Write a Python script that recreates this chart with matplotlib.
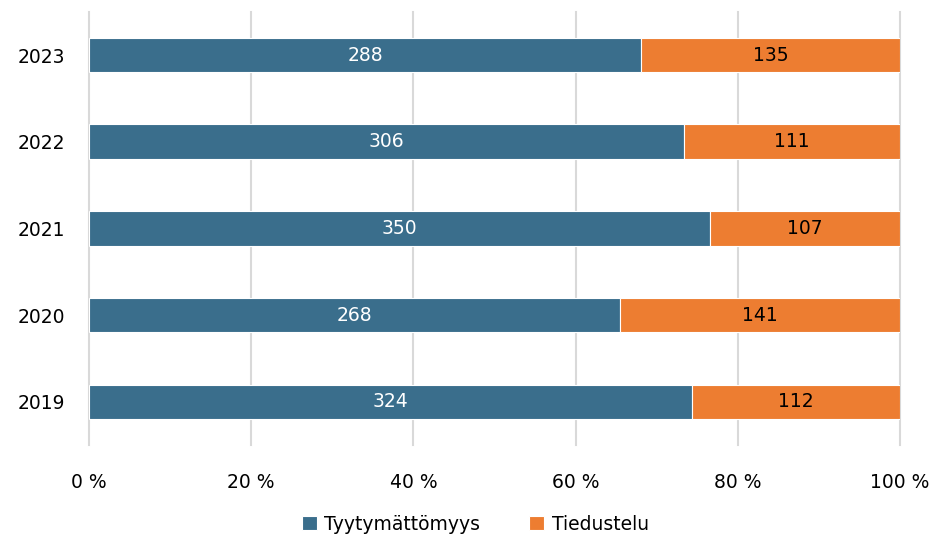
import matplotlib.pyplot as plt
import numpy as np

years = ['2019', '2020', '2021', '2022', '2023']
tyytymattomyys = [324, 268, 350, 306, 288]
tiedustelu = [112, 141, 107, 111, 135]
x_ticks = [0, 20, 40, 60, 80, 100]
x_labels = ['0 %', '20 %', '40 %', '60 %', '80 %', '100 %']

plt.rcParams['font.family'] = ['DejaVu Sans']

a = np.array(tyytymattomyys, dtype=float)
b = np.array(tiedustelu, dtype=float)
total = a + b
pa = a / total * 100
pb = b / total * 100

fig = plt.figure(figsize=(9.32, 5.37), dpi=100)
ax = fig.add_axes([0.0955, 0.171, 0.8702, 0.807])

y = np.arange(len(years))
bar_h = 0.4
blue = '#3a6e8c'
orange = '#ed7d31'
fs = 13.5

ax.barh(y, pa, height=bar_h, color=blue, edgecolor='white', linewidth=0.8,
        label='Tyytymättömyys', zorder=3)
ax.barh(y, pb, left=pa, height=bar_h, color=orange, edgecolor='white', linewidth=0.8,
        label='Tiedustelu', zorder=3)

for i in range(len(years)):
    ax.text(pa[i] / 2, y[i], str(tyytymattomyys[i]), ha='center', va='center',
            color='white', fontsize=fs, zorder=4)
    ax.text(pa[i] + pb[i] / 2, y[i], str(tiedustelu[i]), ha='center', va='center',
            color='black', fontsize=fs, zorder=4)

ax.set_xlim(0, 100)
ax.set_ylim(-0.5, 4.5)
ax.set_xticks(x_ticks)
ax.set_xticklabels(x_labels, fontsize=fs)
ax.set_yticks(y)
ax.set_yticklabels(years, fontsize=fs)
ax.tick_params(axis='both', length=0)
ax.tick_params(axis='x', pad=20)
ax.tick_params(axis='y', pad=17)
ax.grid(axis='x', color='#d9d9d9', linewidth=1.5, zorder=0)
for gl in ax.get_xgridlines():
    gl.set_clip_on(False)
for s in ax.spines.values():
    s.set_visible(False)

fig.legend(loc='lower center', bbox_to_anchor=(0.51, -0.025), ncol=2, frameon=False,
           fontsize=fs, handlelength=0.8, handleheight=0.8, handletextpad=0.4,
           columnspacing=2.6)

fig.savefig('out.png', dpi=100)
